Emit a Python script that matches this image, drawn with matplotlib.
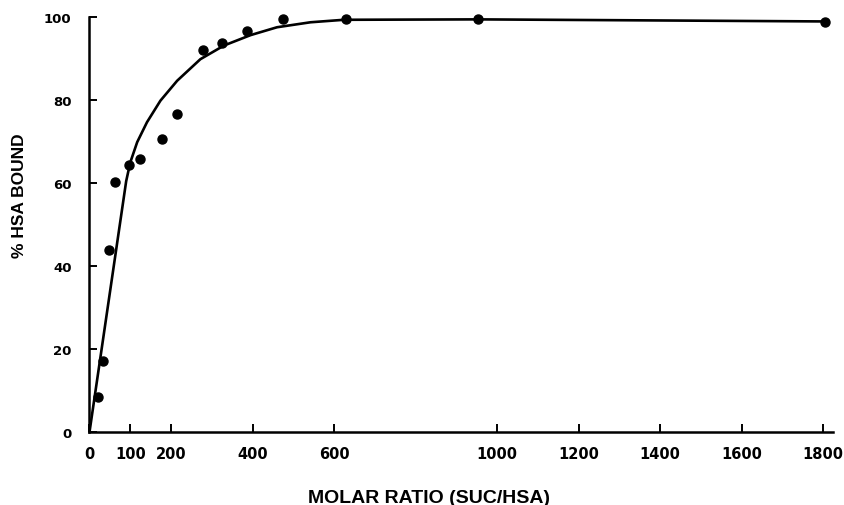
import numpy as np
import matplotlib.pyplot as plt

# measured points (molar ratio SUC/HSA vs % HSA bound)
ratio = [21, 32, 49, 63, 96, 123, 179, 215, 279, 326, 387, 475, 630, 954, 1805]
bound = [8.5, 17.2, 44, 60.2, 64.4, 65.8, 70.6, 76.8, 92.2, 93.8, 96.8, 99.6, 99.5, 99.5, 98.9]

# hand-drawn fit curve
curve_x = [0, 90, 100, 117, 141, 174, 215, 272, 330, 395, 460, 542, 624, 954, 1805]
curve_y = [0, 60.5, 65, 69.9, 74.7, 79.9, 84.7, 89.9, 93.2, 95.7, 97.6, 98.8, 99.4, 99.5, 99.0]

xticks = [0, 100, 200, 400, 600, 1000, 1200, 1400, 1600, 1800]
yticks = [0, 20, 40, 60, 80, 100]

plt.rcParams['font.family'] = ['Liberation Sans', 'DejaVu Sans']

fig = plt.figure(figsize=(8.45, 5.06), dpi=100)
ax = fig.add_axes([89.5 / 845, 73 / 506, 744 / 845, 414.7 / 506])

ax.plot(curve_x, curve_y, color='black', linewidth=1.9, solid_capstyle='round',
        solid_joinstyle='round')
ax.plot(ratio, bound, 'o', color='black', markersize=6.5, clip_on=False)

ax.set_xlim(0, 1825)
ax.set_ylim(0, 100)

ax.spines['top'].set_visible(False)
ax.spines['right'].set_visible(False)
ax.spines['left'].set_linewidth(1.8)
ax.spines['bottom'].set_linewidth(1.8)

# tick labels in a wider face, closer to the spaced-out digits of the original
ax.set_xticks(xticks)
ax.set_xticklabels([str(v) for v in xticks], fontsize=10.5, fontweight='bold',
                   family='DejaVu Sans')
ax.set_yticks(yticks)
ax.set_yticklabels([str(v) for v in yticks], fontsize=9.5, fontweight='bold',
                   family='DejaVu Sans')
ax.tick_params(axis='x', direction='in', length=6, width=1.4, pad=10)
ax.tick_params(axis='y', direction='in', length=6, width=1.4, pad=13)

fig.text(20 / 845, 1 - 196 / 506, '% HSA BOUND', rotation=90, ha='center', va='center',
         fontsize=12.5, fontweight='bold')
fig.text(429 / 845, 3 / 506, 'MOLAR RATIO (SUC/HSA)', ha='center', va='baseline',
         fontsize=14, fontweight='bold')

fig.savefig('out.png', dpi=100)
